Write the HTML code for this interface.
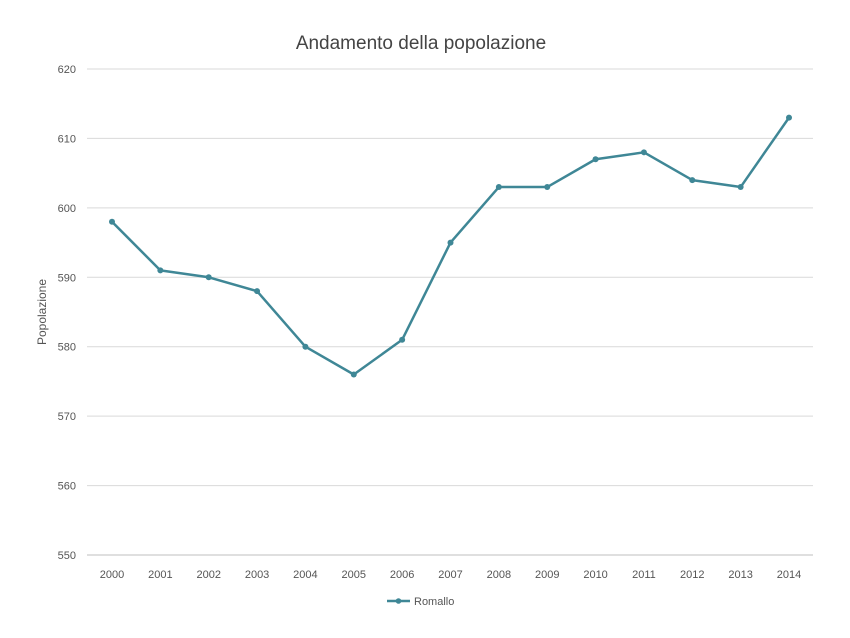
<!DOCTYPE html>
<html><head><meta charset="utf-8"><style>
body{margin:0;background:#fff;}
svg{display:block;font-family:"Liberation Sans",sans-serif;}
</style></head><body>
<svg id="chart" width="850" height="638">
<text x="421" y="49" text-anchor="middle" font-size="19" fill="#444">Andamento della popolazione</text>
<text transform="translate(46,312) rotate(-90)" text-anchor="middle" font-size="12" fill="#555">Popolazione</text>
<g id="grid"></g><g id="xt"></g><g id="series"></g>
<g>
<line x1="387" y1="601" x2="410" y2="601" stroke="#3f8796" stroke-width="2.5"/>
<circle cx="398.5" cy="601" r="2.8" fill="#3f8796"/>
<text x="414" y="605" font-size="11" fill="#555">Romallo</text>
</g>
</svg>
<script>
const categories=["2000","2001","2002","2003","2004","2005","2006","2007","2008","2009","2010","2011","2012","2013","2014"];
const values=[598,591,590,588,580,576,581,595,603,603,607,608,604,603,613];
const yTicks=[550,560,570,580,590,600,610,620];
const ns="http://www.w3.org/2000/svg";
const x0=112,dx=(789-112)/14;
const yS=v=>555-(v-550)*(555-69)/70;
const xS=i=>x0+i*dx;
const grid=document.getElementById('grid'),xt=document.getElementById('xt'),ser=document.getElementById('series');
function mk(t,a,p){const e=document.createElementNS(ns,t);for(const k in a)e.setAttribute(k,a[k]);p.appendChild(e);return e;}
yTicks.forEach(v=>{
 const l=mk('line',{x1:87,x2:813,y1:yS(v),y2:yS(v),stroke:v===550?'#bfbfbf':'#d9d9d9','stroke-width':1},grid);
 
 
 const t=mk('text',{x:76,y:yS(v)+4,'text-anchor':'end','font-size':11,fill:'#555'},grid);
 t.textContent=v;
 
 
});
categories.forEach((c,i)=>{
 const t=mk('text',{x:xS(i),y:578,'text-anchor':'middle','font-size':11,fill:'#555'},xt);
 t.textContent=c;
 
 
});
const pl=mk('polyline',{points:values.map((v,i)=>xS(i)+','+yS(v)).join(' '),fill:'none',stroke:'#3f8796','stroke-width':2.5,'stroke-linejoin':'round'},ser);


values.forEach((v,i)=>{
 const c=mk('circle',{cx:xS(i),cy:yS(v),r:3,fill:'#3f8796'},ser);
 
 
});
</script>
</body></html>
